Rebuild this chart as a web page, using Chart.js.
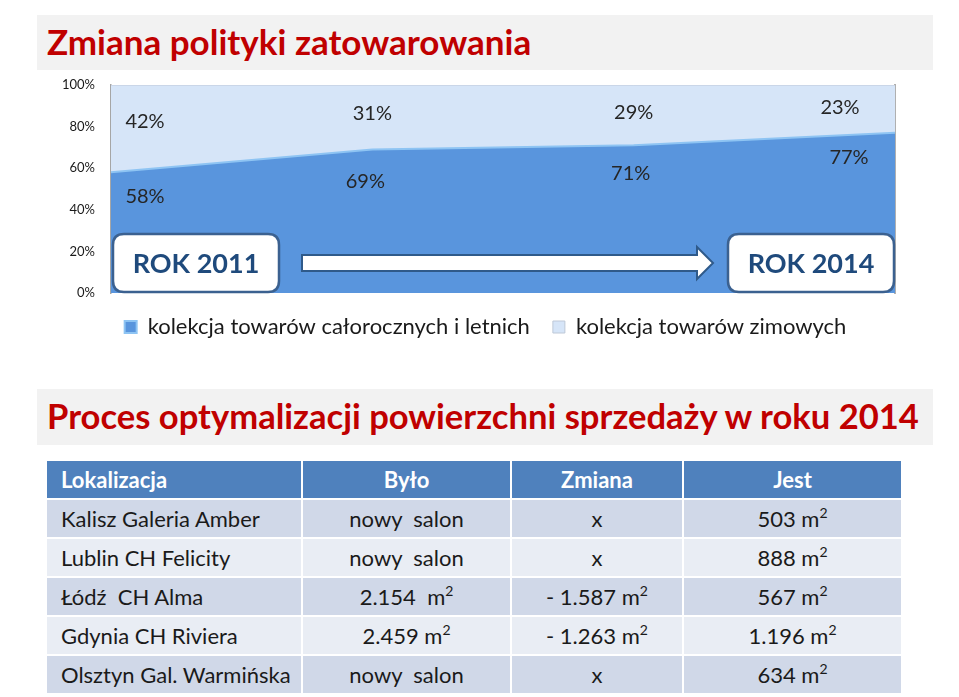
<!DOCTYPE html>
<html><head><meta charset="utf-8">
<script src="https://cdn.jsdelivr.net/npm/chart.js@4"></script>
<style>
html,body{margin:0;padding:0;background:#fff;width:959px;height:697px;overflow:hidden;font-family:Lato,"Open Sans",sans-serif;}
#wrap{position:relative;width:959px;height:697px;}
#c{position:absolute;left:0;top:0;}
.bar{position:absolute;left:37px;width:896px;background:#f2f2f2;}
.bar span{position:absolute;left:10px;color:#c00000;font-weight:bold;font-size:35px;white-space:nowrap;line-height:1;}
#tbl{position:absolute;left:47px;top:461px;display:grid;grid-template-columns:254px 207px 170px 217px;grid-auto-rows:37px;gap:2px;}
#tbl div{display:flex;align-items:center;justify-content:center;font-size:22px;color:#1a1a1a;white-space:nowrap;}
#tbl div.l{justify-content:flex-start;padding-left:14px;}
#tbl div.h{background:#4f81bd;color:#fff;font-weight:bold;}
#tbl div.o{background:#d0d8e8;}
#tbl div.e{background:#e9edf4;}
sup{font-size:14px;vertical-align:9px;line-height:0;}
</style></head>
<body><div id="wrap">
<canvas id="c" width="959" height="350"></canvas>
<div class="bar" style="top:15px;height:55px;"><span style="top:9px;">Zmiana polityki zatowarowania</span></div>
<div class="bar" style="top:389px;height:56px;"><span style="top:10px;font-size:34.6px;">Proces optymalizacji powierzchni sprzedaży w roku 2014</span></div>
<div id="tbl"></div>
</div>
<script>
// ---- chart data ----
const years = ['2011', '2012', '2013', '2014'];
const yearStart = 'ROK 2011';
const yearEnd = 'ROK 2014';
const summerShare = [58, 69, 71, 77];   // kolekcja towarów całorocznych i letnich
const winterShare = [42, 31, 29, 23];   // kolekcja towarów zimowych
const seriesNames = ['kolekcja towarów całorocznych i letnich', 'kolekcja towarów zimowych'];
const yTickValues = [0, 20, 40, 60, 80, 100];

// ---- table data ----
const tableHeader = ['Lokalizacja', 'Było', 'Zmiana', 'Jest'];
const locations = ['Kalisz Galeria Amber', 'Lublin CH Felicity', 'Łódź  CH Alma', 'Gdynia CH Riviera', 'Olsztyn Gal. Warmińska'];
const before = ['nowy  salon', 'nowy  salon', '2.154  m²', '2.459 m²', 'nowy  salon'];
const change = ['x', 'x', '- 1.587 m²', '- 1.263 m²', 'x'];
const after = ['503 m²', '888 m²', '567 m²', '1.196 m²', '634 m²'];

// label placement (style)
const LBL_DX_TOP = [34, 0, 0, -55], LBL_DY_TOP = [-7, -4, -3, -1];
const LBL_DX_BOT = [34, -7, -3, -46], LBL_DY_BOT = [24, 32, 28, 25];

function cellNode(s){
  const span = document.createElement('span');
  const parts = s.split('²');
  parts.forEach((p,i)=>{
    span.appendChild(document.createTextNode(p.replace(/ /g,'\u00a0')));
    if(i < parts.length-1){ const sp=document.createElement('sup'); sp.textContent='2'; span.appendChild(sp); }
  });
  return span;
}
const tbl = document.getElementById('tbl');
tableHeader.forEach((h,i)=>{const d=document.createElement('div');d.className='h'+(i===0?' l':'');d.textContent=h;tbl.appendChild(d);});
locations.forEach((loc,r)=>{
  [loc, before[r], change[r], after[r]].forEach((v,i)=>{
    const d=document.createElement('div');
    d.className=(r%2===0?'o':'e')+(i===0?' l':'');
    d.appendChild(cellNode(v));
    tbl.appendChild(d);
  });
});

const labelPlugin = {
  id: 'valueLabels',
  afterDatasetsDraw(chart){
    const {ctx, scales:{x, y}} = chart;
    ctx.save();
    ctx.font = '20px Lato'; ctx.fillStyle = '#262626';
    ctx.textAlign = 'center'; ctx.textBaseline = 'middle';
    const yTop = y.getPixelForValue(100);
    summerShare.forEach((v,i)=>{
      const px = x.getPixelForValue(i);
      const yb = y.getPixelForValue(v);
      ctx.fillText(winterShare[i] + '%', px + LBL_DX_TOP[i], (yb + yTop)/2 + LBL_DY_TOP[i]);
      ctx.fillText(v + '%', px + LBL_DX_BOT[i], yb + LBL_DY_BOT[i]);
    });
    ctx.restore();
  }
};

function roundRect(ctx,x,y,w,h,r){
  ctx.beginPath();
  ctx.moveTo(x+r,y);ctx.lineTo(x+w-r,y);ctx.quadraticCurveTo(x+w,y,x+w,y+r);
  ctx.lineTo(x+w,y+h-r);ctx.quadraticCurveTo(x+w,y+h,x+w-r,y+h);
  ctx.lineTo(x+r,y+h);ctx.quadraticCurveTo(x,y+h,x,y+h-r);
  ctx.lineTo(x,y+r);ctx.quadraticCurveTo(x,y,x+r,y);ctx.closePath();
}
const overlayPlugin = {
  id: 'yearOverlay',
  afterDraw(chart){
    const {ctx, chartArea:ca} = chart;
    ctx.save();
    const bh = 59, bw = 166;
    const boxes = [[ca.left+2, yearStart], [ca.right-bw-1, yearEnd]];
    boxes.forEach(([bx, txt])=>{
      roundRect(ctx, bx, ca.bottom-bh, bw, bh-1, 11);
      ctx.fillStyle = '#fff'; ctx.fill();
      ctx.lineWidth = 2.5; ctx.strokeStyle = '#3b6190'; ctx.stroke();
      ctx.fillStyle = '#1f4a7c'; ctx.font = 'bold 27px Lato';
      ctx.textAlign = 'center'; ctx.textBaseline = 'middle';
      ctx.fillText(txt, bx + bw/2, ca.bottom - bh/2 + 1);
    });
    // arrow
    const ax0 = ca.left + 191, ax1 = ca.right - 198, ay = ca.bottom - 30;
    ctx.beginPath();
    ctx.moveTo(ax0, ay-8); ctx.lineTo(ax1, ay-8); ctx.lineTo(ax1, ay-16);
    ctx.lineTo(ax1+16, ay); ctx.lineTo(ax1, ay+16); ctx.lineTo(ax1, ay+8);
    ctx.lineTo(ax0, ay+8); ctx.closePath();
    ctx.fillStyle = '#fff'; ctx.fill();
    ctx.lineWidth = 2; ctx.strokeStyle = '#2f5a8a'; ctx.stroke();
    ctx.restore();
  }
};

new Chart(document.getElementById('c'), {
  type: 'line',
  data: {
    labels: years,
    datasets: [
      { label: seriesNames[0], data: summerShare, fill: 'origin',
        backgroundColor: 'rgb(89,149,221)', borderColor: 'rgb(142,196,243)', borderWidth: 2,
        pointRadius: 0, tension: 0 },
      { label: seriesNames[1], data: winterShare, fill: '-1',
        backgroundColor: 'rgb(214,229,248)', borderColor: 'rgba(190,200,215,1)', borderWidth: 1,
        pointRadius: 0, tension: 0 }
    ]
  },
  options: {
    responsive: false, animation: false,
    layout: { padding: { top: 85, left: 12, right: 0, bottom: 2 } },
    scales: {
      x: { display: false, offset: false },
      y: { stacked: true, min: 0, max: 100,
        afterBuildTicks(s){ s.ticks = yTickValues.map(v=>({value:v})); },
        afterFit(s){ s.width = 99; },
        grid: { display: false, drawTicks: false },
        border: { display: true, color: '#a6a6a6', width: 1.5 },
        ticks: { padding: 16, color: '#1a1a1a', font: { family: 'Lato', size: 13 }, callback: v => v + '%' } },
      y2: { position: 'right', display: true, min: 0, max: 100,
        afterFit(s){ s.width = 64; },
        grid: { display: false, drawTicks: false },
        border: { display: true, color: '#b0b0b0', width: 2 },
        ticks: { display: false } }
    },
    plugins: {
      legend: { position: 'bottom',
        labels: { boxWidth: 12, boxHeight: 12, padding: 23, color: '#1a1a1a', font: { family: 'Lato', size: 22 } } },
      tooltip: { enabled: false }
    }
  },
  plugins: [labelPlugin, overlayPlugin]
});
</script>
</body></html>
